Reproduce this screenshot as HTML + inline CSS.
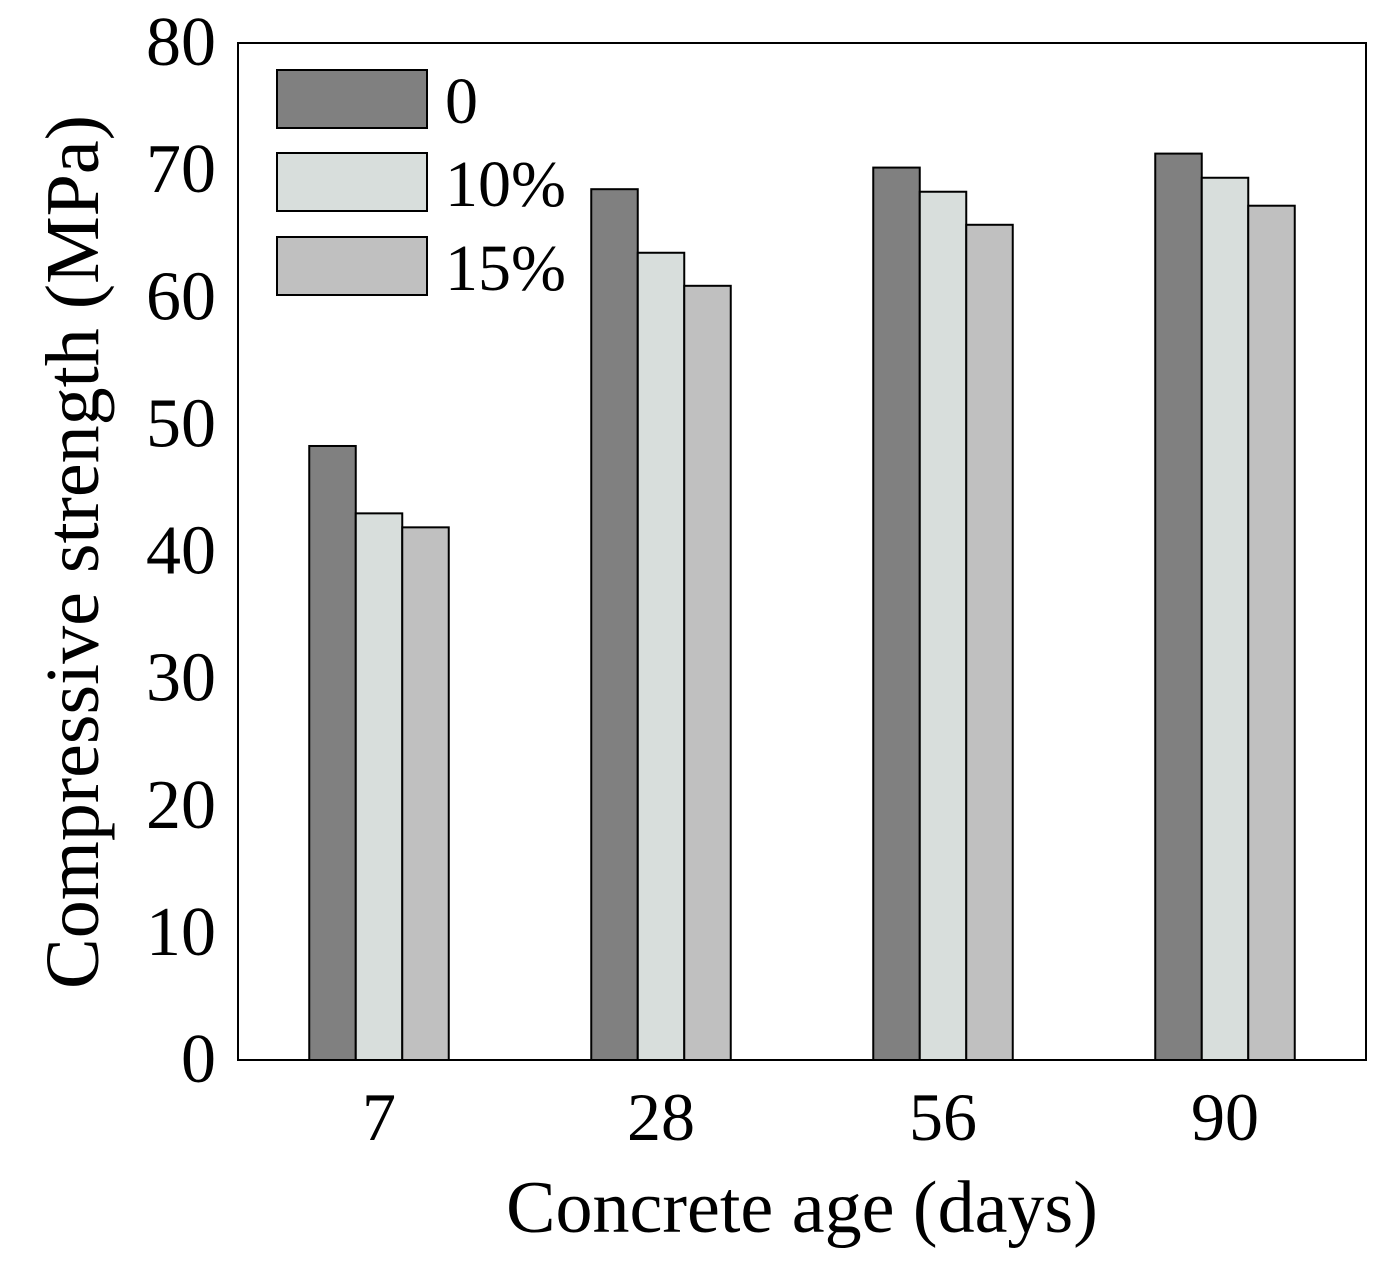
<!DOCTYPE html>
<html><head><meta charset="utf-8"><style>
html,body{margin:0;padding:0;background:#fff;}
svg{display:block;font-family:"Liberation Serif",serif;}
</style></head><body>
<svg id="chart" width="1384" height="1275"></svg>
<script>
const categories = ["7","28","56","90"];
const series0 = [48.3, 68.5, 70.2, 71.3];
const series10 = [43.0, 63.5, 68.3, 69.4];
const series15 = [41.9, 60.9, 65.7, 67.2];
const seriesNames = ["0","10%","15%"];
const yTicks = [0,10,20,30,40,50,60,70,80];

const NS="http://www.w3.org/2000/svg";
const svg=document.getElementById('chart');
const L=238,R=1366,T=43,B=1060;
const y=v=>B-(v/80)*(B-T);
const band=(R-L)/categories.length;
const xc=i=>L+band*(i+0.5);
const barW=46.5;
const colors=["#808080","#d8dedc","#c0c0c0"];
const allSeries=[series0,series10,series15];
function mk(tag,attrs,parent){const e=document.createElementNS(NS,tag);for(const k in attrs)e.setAttribute(k,attrs[k]);(parent||svg).appendChild(e);return e;}

allSeries.forEach((s,si)=>{
  s.forEach((v,i)=>{
    const r=mk('rect',{x:xc(i)+(si-1.5)*barW,y:y(v),width:barW,height:B-y(v),fill:colors[si],stroke:"#000","stroke-width":2});
    
    
  });
});

const frame=mk('rect',{x:L,y:T,width:R-L,height:B-T,fill:"none",stroke:"#000","stroke-width":2});



yTicks.forEach(t=>{
  const tx=mk('text',{x:216,y:y(t)+22,"text-anchor":"end","font-size":70});
  tx.textContent=t;
  
  
});
categories.forEach((c,i)=>{
  const tx=mk('text',{x:xc(i),y:1140,"text-anchor":"middle","font-size":68});
  tx.textContent=c;
  
  
});

const xt=mk('text',{x:802,y:1232,"text-anchor":"middle","font-size":74});
xt.textContent="Concrete age (days)";


const yt=mk('text',{x:0,y:0,"text-anchor":"middle","font-size":76,transform:"translate(98,552) rotate(-90)"});
yt.textContent="Compressive strength (MPa)";



const legTops=[70,153,237];
seriesNames.forEach((n,si)=>{
  const r=mk('rect',{x:277,y:legTops[si],width:150,height:58,fill:colors[si],stroke:"#000","stroke-width":2});
  
  
  const t=mk('text',{x:445,y:legTops[si]+53,"font-size":66});
  t.textContent=n;
  
  
});
</script>
</body></html>
